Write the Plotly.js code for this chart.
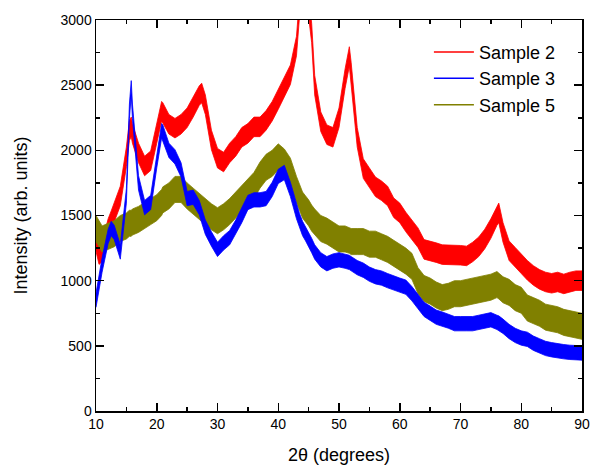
<!DOCTYPE html>
<html>
<head>
<meta charset="utf-8">
<script src="https://cdn.plot.ly/plotly-3.0.1.min.js"></script>
<style>html,body{margin:0;padding:0;background:#fff;}#chart{width:591px;height:465px;}</style>
</head>
<body>
<div id="chart"></div>
<script>
// 2-theta positions (degrees)
const angle = [10,10.5,11,12,12.5,13,14,15,15.5,15.8,16,17,18,19,20,20.8,21,22,23,24,25,26,27,27.4,28,29,30,31,32,33,34,35,36,37,38,39,40,41,42,43,43.5,44,44.5,45,45.5,46,47,48,49,50,51,51.7,52,53,54,55,56,57,58,59,60,61,62,63,64,65,66,67,68,69,70,71,72,73,74,75,76,76.3,77,78,79,80,81,82,83,84,85,86,87,88,89,90];

// Sample 2 (red)
const sample2 = [1300,1200,1220,1400,1460,1520,1650,1950,2150,2180,2130,1980,1880,1920,2130,2300,2290,2200,2170,2200,2250,2330,2420,2440,2350,2080,1940,1910,1980,2030,2100,2130,2180,2180,2230,2300,2390,2480,2580,2800,3100,3700,3500,3100,2900,2500,2220,2120,2100,2250,2550,2720,2600,2100,1860,1790,1720,1690,1650,1560,1520,1450,1390,1330,1240,1230,1215,1200,1200,1195,1195,1190,1220,1260,1320,1400,1500,1520,1370,1230,1180,1130,1080,1040,1010,990,980,990,975,990,1000,1000];

// Sample 3 (blue)
const sample3 = [850,1000,1120,1340,1400,1370,1220,1650,2300,2480,2300,1750,1560,1600,1920,2150,2140,2000,1950,1850,1630,1640,1560,1500,1410,1320,1240,1290,1330,1410,1500,1600,1620,1620,1630,1700,1800,1830,1700,1530,1460,1400,1360,1320,1270,1220,1160,1130,1150,1160,1150,1140,1130,1100,1080,1050,1030,1020,1000,980,965,950,900,840,780,750,720,705,690,670,670,670,670,680,690,700,680,675,650,610,580,560,550,520,500,480,470,460,455,450,445,445];

// Sample 5 (olive)
const sample5 = [1400,1360,1320,1340,1350,1360,1400,1420,1440,1440,1450,1470,1500,1530,1560,1600,1620,1650,1700,1700,1650,1610,1570,1550,1530,1490,1460,1490,1530,1580,1630,1680,1730,1810,1870,1900,1950,1910,1840,1700,1640,1580,1550,1520,1480,1450,1400,1380,1350,1320,1320,1310,1300,1300,1300,1280,1280,1260,1240,1210,1180,1150,1110,1000,940,920,890,870,880,900,900,910,920,930,940,950,970,960,930,910,870,850,790,770,750,720,710,700,680,670,660,650];

// visible noise half-spread of each pattern (intensity units)
const spread = {s2: 75, s3: 55, s5: 100};

const seriesNames = ["Sample 2", "Sample 3", "Sample 5"];
const colors = {s2: "#FF0000", s3: "#0000FF", s5: "#808000"};

function band(vals, sp, color) {
  const xs = angle.concat(angle.slice().reverse());
  const hi = vals.map(v => v + sp);
  const lo = vals.map(v => v - sp).reverse();
  return {
    x: xs, y: hi.concat(lo), type: "scatter", mode: "lines",
    fill: "toself", fillcolor: color, line: {color: color, width: 0.8},
    showlegend: false, hoverinfo: "skip"
  };
}

const traces = [
  band(sample2, spread.s2, colors.s2),
  band(sample5, spread.s5, colors.s5),
  band(sample3, spread.s3, colors.s3),
  {x: [null], y: [null], type: "scatter", mode: "lines", name: seriesNames[0], line: {color: colors.s2, width: 1.5}},
  {x: [null], y: [null], type: "scatter", mode: "lines", name: seriesNames[1], line: {color: colors.s3, width: 1.5}},
  {x: [null], y: [null], type: "scatter", mode: "lines", name: seriesNames[2], line: {color: colors.s5, width: 1.5}}
];

const font = "Arial, 'Liberation Sans', sans-serif";
const axisCommon = {
  showline: true, linecolor: "#000", linewidth: 1.5, mirror: "ticks",
  ticks: "inside", ticklen: 8, tickwidth: 1.5, tickcolor: "#000",
  showgrid: false, zeroline: false,
  tickfont: {family: font, size: 14, color: "#000"}
};

const layout = {
  width: 591, height: 465,
  margin: {l: 96, r: 9, t: 20, b: 54},
  paper_bgcolor: "#fff", plot_bgcolor: "#fff",
  showlegend: true,
  legend: {x: 0.685, y: 0.965, xanchor: "left", yanchor: "top", bgcolor: "rgba(0,0,0,0)",
           font: {family: font, size: 18, color: "#000"}, tracegroupgap: 0, itemwidth: 40},
  xaxis: Object.assign({}, axisCommon, {
    range: [10, 90], dtick: 10, tick0: 10,
    minor: {dtick: 5, ticklen: 4, tickwidth: 1.5, tickcolor: "#000", ticks: "inside"},
    title: {text: "2θ (degrees)", font: {family: font, size: 18, color: "#000"}, standoff: 17}
  }),
  yaxis: Object.assign({}, axisCommon, {
    range: [0, 3000], dtick: 500,
    minor: {dtick: 250, ticklen: 4, tickwidth: 1.5, tickcolor: "#000", ticks: "inside"},
    title: {text: "Intensity (arb. units)", font: {family: font, size: 18, color: "#000"}, standoff: 28}
  })
};

Plotly.newPlot("chart", traces, layout, {displayModeBar: false, staticPlot: true});
</script>
</body>
</html>
